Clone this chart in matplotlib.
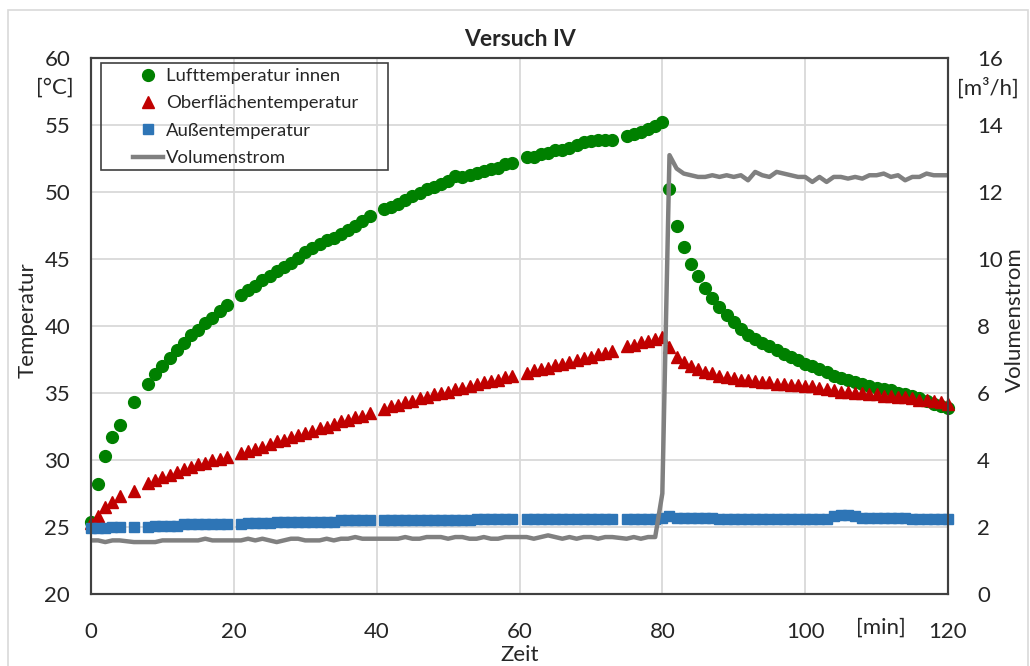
import matplotlib
matplotlib.use("Agg")
import matplotlib.pyplot as plt
from matplotlib.patches import Rectangle

plt.rcParams['font.family'] = ['Lato', 'DejaVu Sans']

# Zeit [min] (fehlende Messpunkte bei 5, 7, 20, 40, 60, 74)
zeit = [0, 1, 2, 3, 4, 6, 8, 9, 10, 11, 12, 13, 14, 15, 16, 17, 18, 19,
        21, 22, 23, 24, 25, 26, 27, 28, 29, 30, 31, 32, 33, 34, 35, 36, 37, 38, 39,
        41, 42, 43, 44, 45, 46, 47, 48, 49, 50, 51, 52, 53, 54, 55, 56, 57, 58, 59,
        61, 62, 63, 64, 65, 66, 67, 68, 69, 70, 71, 72, 73,
        75, 76, 77, 78, 79, 80, 81, 82, 83, 84, 85, 86, 87, 88, 89, 90, 91, 92, 93,
        94, 95, 96, 97, 98, 99, 100, 101, 102, 103, 104, 105, 106, 107, 108, 109,
        110, 111, 112, 113, 114, 115, 116, 117, 118, 119, 120]

luft_innen = [25.4, 28.2, 30.3, 31.7, 32.6, 34.3, 35.7, 36.4, 37.0, 37.6, 38.2, 38.7, 39.3, 39.7, 40.2, 40.6, 41.1, 41.6,
              42.3, 42.7, 43.0, 43.4, 43.7, 44.1, 44.4, 44.7, 45.1, 45.5, 45.8, 46.1, 46.4, 46.6, 46.9, 47.2, 47.5, 47.8, 48.2,
              48.7, 48.9, 49.1, 49.4, 49.7, 49.9, 50.2, 50.4, 50.6, 50.8, 51.2, 51.1, 51.3, 51.4, 51.6, 51.7, 51.8, 52.1, 52.2,
              52.6, 52.6, 52.8, 52.9, 53.1, 53.1, 53.3, 53.5, 53.7, 53.8, 53.9, 53.9, 53.9,
              54.2, 54.3, 54.5, 54.7, 54.9, 55.2, 50.2, 47.5, 45.9, 44.6, 43.7, 42.8, 42.1, 41.4, 40.8, 40.3, 39.8, 39.3, 39.0,
              38.7, 38.5, 38.2, 37.9, 37.7, 37.5, 37.2, 37.0, 36.8, 36.6, 36.3, 36.1, 36.0, 35.8, 35.7, 35.5,
              35.4, 35.3, 35.2, 35.0, 34.9, 34.8, 34.6, 34.4, 34.2, 34.0, 33.9]

oberflaeche = [25.3, 25.8, 26.5, 26.9, 27.3, 27.7, 28.3, 28.5, 28.7, 28.9, 29.1, 29.3, 29.5, 29.7, 29.8, 30.0, 30.1, 30.2,
               30.5, 30.7, 30.8, 31.0, 31.2, 31.4, 31.5, 31.7, 31.9, 32.0, 32.2, 32.4, 32.5, 32.7, 32.9, 33.0, 33.2, 33.3, 33.5,
               33.8, 34.0, 34.1, 34.3, 34.4, 34.6, 34.7, 34.9, 35.0, 35.1, 35.3, 35.4, 35.5, 35.7, 35.8, 35.9, 36.0, 36.2, 36.3,
               36.5, 36.7, 36.8, 36.9, 37.1, 37.2, 37.3, 37.5, 37.6, 37.7, 37.9, 38.0, 38.1,
               38.5, 38.6, 38.8, 38.9, 39.0, 39.2, 38.4, 37.7, 37.3, 37.0, 36.8, 36.6, 36.5, 36.3, 36.2, 36.1, 36.0, 36.0, 35.9,
               35.8, 35.8, 35.7, 35.7, 35.6, 35.6, 35.5, 35.5, 35.4, 35.3, 35.2, 35.1, 35.1, 35.0, 35.0, 34.9,
               34.9, 34.8, 34.8, 34.7, 34.7, 34.6, 34.5, 34.5, 34.4, 34.3, 34.2]

aussen = [24.9, 24.9, 24.9, 25.0, 25.0, 25.0, 25.0, 25.1, 25.1, 25.1, 25.1, 25.2, 25.2, 25.2, 25.2, 25.2, 25.2, 25.2,
          25.2, 25.3, 25.3, 25.3, 25.3, 25.4, 25.4, 25.4, 25.4, 25.4, 25.4, 25.4, 25.4, 25.4, 25.5, 25.5, 25.5, 25.5, 25.5,
          25.5, 25.5, 25.5, 25.5, 25.5, 25.5, 25.5, 25.5, 25.5, 25.5, 25.5, 25.5, 25.5, 25.6, 25.6, 25.6, 25.6, 25.6, 25.6,
          25.6, 25.6, 25.6, 25.6, 25.6, 25.6, 25.6, 25.6, 25.6, 25.6, 25.6, 25.6, 25.6,
          25.6, 25.6, 25.6, 25.6, 25.6, 25.7, 25.8, 25.7, 25.7, 25.7, 25.7, 25.7, 25.7, 25.6, 25.6, 25.6, 25.6, 25.6, 25.6,
          25.6, 25.6, 25.6, 25.6, 25.6, 25.6, 25.6, 25.6, 25.6, 25.6, 25.8, 25.9, 25.9, 25.8, 25.7, 25.7,
          25.7, 25.7, 25.7, 25.7, 25.7, 25.6, 25.6, 25.6, 25.6, 25.6, 25.6]

volumenstrom = [1.6, 1.6, 1.55, 1.6, 1.6, 1.55, 1.55, 1.55, 1.6, 1.6, 1.6, 1.6, 1.6, 1.6, 1.65, 1.6, 1.6, 1.6,
                1.6, 1.65, 1.6, 1.65, 1.6, 1.55, 1.6, 1.65, 1.65, 1.6, 1.6, 1.6, 1.65, 1.6, 1.65, 1.65, 1.7, 1.65, 1.65,
                1.65, 1.65, 1.65, 1.7, 1.65, 1.65, 1.7, 1.7, 1.7, 1.65, 1.7, 1.7, 1.65, 1.65, 1.7, 1.65, 1.65, 1.7, 1.7,
                1.7, 1.65, 1.7, 1.75, 1.7, 1.65, 1.7, 1.65, 1.7, 1.7, 1.65, 1.7, 1.7,
                1.65, 1.7, 1.65, 1.7, 1.7, 3.0, 13.1, 12.7, 12.55, 12.5, 12.45, 12.45, 12.5, 12.45, 12.5, 12.45, 12.5, 12.35, 12.6,
                12.5, 12.45, 12.6, 12.55, 12.5, 12.45, 12.45, 12.3, 12.45, 12.3, 12.45, 12.45, 12.4, 12.45, 12.4, 12.5,
                12.5, 12.55, 12.45, 12.5, 12.35, 12.45, 12.45, 12.55, 12.5, 12.5, 12.5]

x_ticks = [0, 20, 40, 60, 80, 100, 120]
y_ticks = [20, 25, 30, 35, 40, 45, 50, 55, 60]
y2_ticks = [0, 2, 4, 6, 8, 10, 12, 14, 16]

fig = plt.figure(figsize=(10.30, 6.66), dpi=100)
ax = fig.add_axes([91 / 1030, 1 - 594 / 666, 857 / 1030, 536 / 666])
ax2 = ax.twinx()

ax.plot(zeit, luft_innen, 'o', color='#008000', ms=8.5, mec='#008000', label='Lufttemperatur innen',
        zorder=3, clip_on=False)
ax.plot(zeit, oberflaeche, '^', color='#C00000', ms=8.5, mec='#C00000', label='Oberflächentemperatur',
        zorder=3, clip_on=False)
ax.plot(zeit, aussen, 's', color='#2E75B6', ms=7.5, mec='#2E75B6', label='Außentemperatur',
        zorder=3, clip_on=False)
ax2.plot(zeit, volumenstrom, '-', color='#808080', lw=3.2, label='Volumenstrom', solid_joinstyle='round')

ax.set_xlim(0, 120)
ax.set_ylim(20, 60)
ax2.set_ylim(0, 16)
ax.set_xticks(x_ticks)
ax.set_yticks(y_ticks)
ax2.set_yticks(y2_ticks)
ax.grid(True, color='#d9d9d9', lw=1.3)
ax.set_axisbelow(True)

ax.tick_params(axis='both', length=0, labelsize=16, colors='#262626')
ax.tick_params(axis='x', pad=20)
ax.tick_params(axis='y', pad=15)
ax2.tick_params(axis='y', length=0, labelsize=16, colors='#262626', pad=21)

for a in (ax, ax2):
    for s in a.spines.values():
        s.set_color('#404040')
        s.set_linewidth(1.5)

# Achsentitel
fig.text(28 / 1030, 1 - 320 / 666, 'Temperatur', fontsize=16, color='#262626',
         rotation=90, ha='center', va='center')
fig.text(1015 / 1030, 1 - 320 / 666, 'Volumenstrom', fontsize=16, color='#262626',
         rotation=90, ha='center', va='center')
ax.set_xlabel('Zeit', fontsize=16, color='#262626', labelpad=2)
ax.set_title('Versuch IV', fontsize=16.5, fontweight='bold', color='#262626', pad=9)

fig.text(55 / 1030, 1 - 88 / 666, '[°C]', fontsize=16, color='#262626', ha='center', va='center')
fig.text(988 / 1030, 1 - 88 / 666, '[m³/h]', fontsize=16, color='#262626', ha='center', va='center')
fig.text(881 / 1030, 1 - 628 / 666, '[min]', fontsize=16, color='#262626', ha='center', va='center')

# Legende mit eigenem Rahmen
h1, l1 = ax.get_legend_handles_labels()
h2, l2 = ax2.get_legend_handles_labels()
leg = ax2.legend(h1 + h2, l1 + l2, loc='upper left', bbox_to_anchor=(133 / 1030, 1 - 68 / 666),
                 bbox_transform=fig.transFigure, frameon=False, borderpad=0, borderaxespad=0,
                 fontsize=13.3, handlelength=1.6, handletextpad=0.17, labelspacing=0.62, numpoints=1)
for t in leg.get_texts():
    t.set_color('#262626')
fig.patches.append(Rectangle((101 / 1030, 1 - 170 / 666), 287 / 1030, 107 / 666, transform=fig.transFigure,
                             fill=False, edgecolor='#404040', lw=1.2, zorder=5))

# Rahmen des Diagrammbereichs
fig.patches.append(Rectangle((8 / 1030, -0.05), 1020 / 1030, 1.05 - 10 / 666, transform=fig.transFigure,
                             fill=False, edgecolor='#d9d9d9', lw=1.2))

fig.savefig('out.png', dpi=100)
